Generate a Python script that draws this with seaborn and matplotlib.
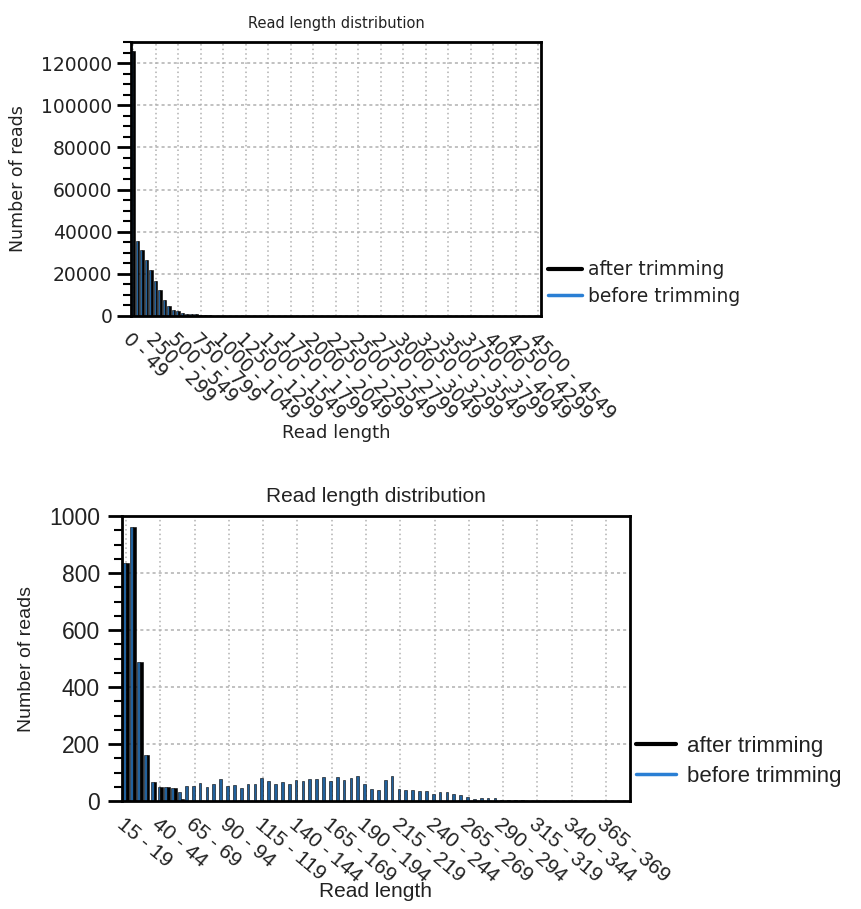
import pandas as pd
import seaborn as sns
import matplotlib.pyplot as plt
from matplotlib.lines import Line2D
from matplotlib.ticker import MultipleLocator

# top panel: 50 bp bins (0-49 ... 4500-4549)
top_bins = list(range(0, 4550, 50))
top_before = [125800, 35500, 31100, 26700, 21600, 16600, 12150, 7700, 4600,
              3000, 2200, 1500, 1100, 900, 750, 600, 450, 350]
top_after = [125800, 35500, 31100, 26700, 21600, 16600, 12150, 7700, 4600,
             3000, 2200, 1500, 1100, 900, 750, 600, 450, 350]
top_ticklabels = ["0 - 49", "250 - 299", "500 - 549", "750 - 799", "1000 - 1049",
                  "1250 - 1299", "1500 - 1549", "1750 - 1799", "2000 - 2049",
                  "2250 - 2299", "2500 - 2549", "2750 - 2799", "3000 - 3049",
                  "3250 - 3299", "3500 - 3549", "3750 - 3799", "4000 - 4049",
                  "4250 - 4299", "4500 - 4549"]

# bottom panel: 5 bp bins (15-19 ... 365-369)
bot_bins = list(range(15, 370, 5))
bot_before = [836, 960, 487, 163, 67, 50, 50, 44, 33, 52, 53, 63, 50, 60, 77, 53,
              55, 45, 59, 59, 80, 69, 60, 66, 60, 75, 69, 77, 77, 83, 69, 83, 72,
              82, 87, 61, 43, 40, 73, 87, 43, 40, 40, 35, 35, 26, 32, 32, 26, 20,
              14, 8, 10, 10, 10, 5, 5, 4, 4]
bot_after = [836, 960, 487, 163, 67, 50, 50, 44, 8]
bot_ticklabels = ["15 - 19", "40 - 44", "65 - 69", "90 - 94", "115 - 119",
                  "140 - 144", "165 - 169", "190 - 194", "215 - 219", "240 - 244",
                  "265 - 269", "290 - 294", "315 - 319", "340 - 344", "365 - 369"]

BLUE = "#0d62b0"
LEG_BLUE = "#2a7fd4"
TXT = "#222222"


def make_long(bins, before, after):
    before = before + [0] * (len(bins) - len(before))
    after = after + [0] * (len(bins) - len(after))
    df = pd.DataFrame({"bin": bins, "before trimming": before, "after trimming": after})
    return df.melt(id_vars="bin", var_name="series", value_name="reads")


def draw(ax, bins, before, after, ticklabels, font, xfs, yfs, legfs, xlim, ylim,
         ymajor, yminor, rot, title_fs, label_fs, ylabel_fs, ylabelpad, ypad,
         xlabelpad, leg_anchor, handlelen, textpad):
    df = make_long(bins, before, after)
    sns.barplot(data=df, x="bin", y="reads", hue="series", order=bins,
                hue_order=["before trimming", "after trimming"],
                palette={"before trimming": BLUE, "after trimming": "black"},
                edgecolor="black", linewidth=0.4, width=0.8, legend=False, ax=ax)
    ax.set_xlim(*xlim)
    ax.set_ylim(*ylim)
    ax.set_xticks(range(0, len(bins), 5))
    ax.set_xticklabels(ticklabels, rotation=rot, ha="left", va="top",
                       rotation_mode="anchor", family=font, fontsize=xfs, color=TXT)
    ax.yaxis.set_major_locator(MultipleLocator(ymajor))
    ax.yaxis.set_minor_locator(MultipleLocator(yminor))
    for t in ax.get_yticklabels():
        t.set_family(font)
        t.set_fontsize(yfs)
        t.set_color(TXT)
    ax.tick_params(axis="x", length=0, pad=10)
    ax.tick_params(axis="y", which="major", left=True, length=10, width=2,
                   direction="out", color="black", pad=ypad)
    ax.tick_params(axis="y", which="minor", left=True, length=6, width=1.5,
                   direction="out", color="black")
    ax.set_axisbelow(True)
    ax.xaxis.grid(True, color="#b0b0b0", linestyle=(0, (1, 2)), linewidth=1.1)
    ax.yaxis.grid(True, color="#b0b0b0", linestyle=(0, (2, 2)), linewidth=1.1)
    for s in ax.spines.values():
        s.set_visible(True)
        s.set_linewidth(2)
        s.set_color("black")
    ax.set_title("Read length distribution", family=font, fontsize=title_fs, pad=10,
                 color=TXT)
    ax.set_xlabel("Read length", family=font, fontsize=label_fs, labelpad=xlabelpad,
                  color=TXT)
    ax.set_ylabel("Number of reads", family=font, fontsize=ylabel_fs,
                  labelpad=ylabelpad, color=TXT)
    handles = [Line2D([], [], color="black", lw=3), Line2D([], [], color=LEG_BLUE, lw=2.5)]
    leg = ax.legend(handles, ["after trimming", "before trimming"], loc="center left",
                    bbox_to_anchor=leg_anchor, frameon=False, borderpad=0,
                    borderaxespad=0, handlelength=handlelen, handletextpad=textpad,
                    labelspacing=0.4, prop={"family": font, "size": legfs})
    for t in leg.get_texts():
        t.set_color(TXT)


sns.set_style("ticks")
fig = plt.figure(figsize=(8.62, 9.09), dpi=100)
ax1 = fig.add_axes([0.152, 0.6524, 0.4756, 0.3014])
ax2 = fig.add_axes([0.1415, 0.1188, 0.5893, 0.3135])

draw(ax1, top_bins, top_before, top_after, top_ticklabels, "DejaVu Sans",
     13.5, 13.5, 13.5, (-0.45, 90.6), (0, 130000), 20000, 5000, -45,
     10.5, 13, 12.5, 10, 3.5, 0, (1.017, 0.12), 1.8, 0.35)
draw(ax2, bot_bins, bot_before, bot_after, bot_ticklabels, "Liberation Sans",
     15, 16.5, 16, (-0.6, 73.5), (0, 1000), 200, 50, -40,
     15, 15, 14, 10, 6, -3, (1.012, 0.14), 1.8, 0.5)

fig.savefig("out.png", dpi=100)
